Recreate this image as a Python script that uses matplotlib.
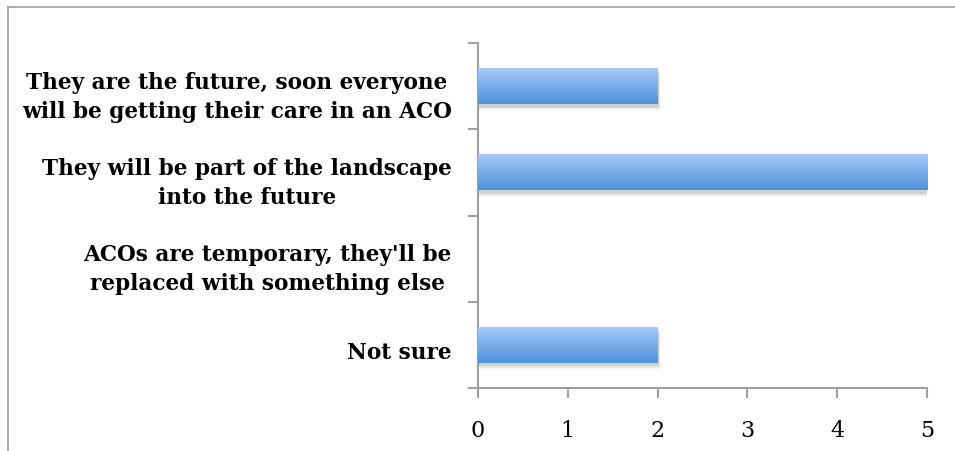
import numpy as np
import matplotlib
matplotlib.use("Agg")
import matplotlib.pyplot as plt
from matplotlib.patches import Rectangle
from matplotlib.lines import Line2D

categories = ["Not sure",
              "ACOs are temporary, they'll be\nreplaced with something else",
              "They will be part of the landscape\ninto the future",
              "They are the future, soon everyone\nwill be getting their care in an ACO"]
counts = [2, 0, 5, 2]
xticks = [0, 1, 2, 3, 4, 5]

fig = plt.figure(figsize=(9.55, 4.52), dpi=100)
ax = fig.add_axes([478/955, 1 - 389/452, 449/955, 345/452])

# frame around the whole chart (only left and top edges visible)
fig.add_artist(Line2D([8/955, 8/955], [0, 1 - 8/452], transform=fig.transFigure, color="#a0a0a0", lw=1.2))
fig.add_artist(Line2D([8/955, 1], [1 - 8/452, 1 - 8/452], transform=fig.transFigure, color="#a0a0a0", lw=1.2))

h = 0.42
grad = np.linspace(0, 1, 256).reshape(-1, 1)
cmap = matplotlib.colors.LinearSegmentedColormap.from_list("bar", ["#4d92d9", "#a8cbfb"])
for i, v in enumerate(counts):
    if v <= 0:
        continue
    # soft shadow below the bar
    for k, a in enumerate([0.10, 0.06, 0.03]):
        ax.add_patch(Rectangle((0.01, i - h/2 - 0.04 - 0.02*k), v + 0.005 + 0.008*k, h,
                               facecolor="black", alpha=a, lw=0, zorder=1))
    r = Rectangle((0, i - h/2), v, h, facecolor="none", lw=0, zorder=2)
    ax.add_patch(r)
    im = ax.imshow(grad, cmap=cmap, aspect="auto", origin="lower",
                   extent=[0, v, i - h/2, i + h/2], zorder=3)
    im.set_clip_path(r)

ax.set_xlim(0, 5)
ax.set_ylim(-0.5, len(categories) - 0.5)
ax.set_xticks(xticks)
ax.set_xticklabels([str(t) for t in xticks], family="DejaVu Serif", fontsize=16)
ax.set_yticks(np.arange(len(categories)) - 0.05)
ax.set_yticklabels(categories, family="DejaVu Serif", fontweight="bold", fontsize=15.6,
                   ha="right", multialignment="center", linespacing=1.4)
ax.tick_params(axis="y", length=0, pad=19)
ax.set_yticks(np.arange(-0.5, len(categories)), minor=True)
ax.tick_params(axis="y", which="minor", length=7, color="#a0a0a0", width=1.5)
ax.tick_params(axis="x", length=7, color="#a0a0a0", width=1.5, pad=15)

for s in ["top", "right"]:
    ax.spines[s].set_visible(False)
for s in ["left", "bottom"]:
    ax.spines[s].set_color("#a0a0a0")
    ax.spines[s].set_linewidth(1.5)

fig.savefig("out.png", dpi=100)
